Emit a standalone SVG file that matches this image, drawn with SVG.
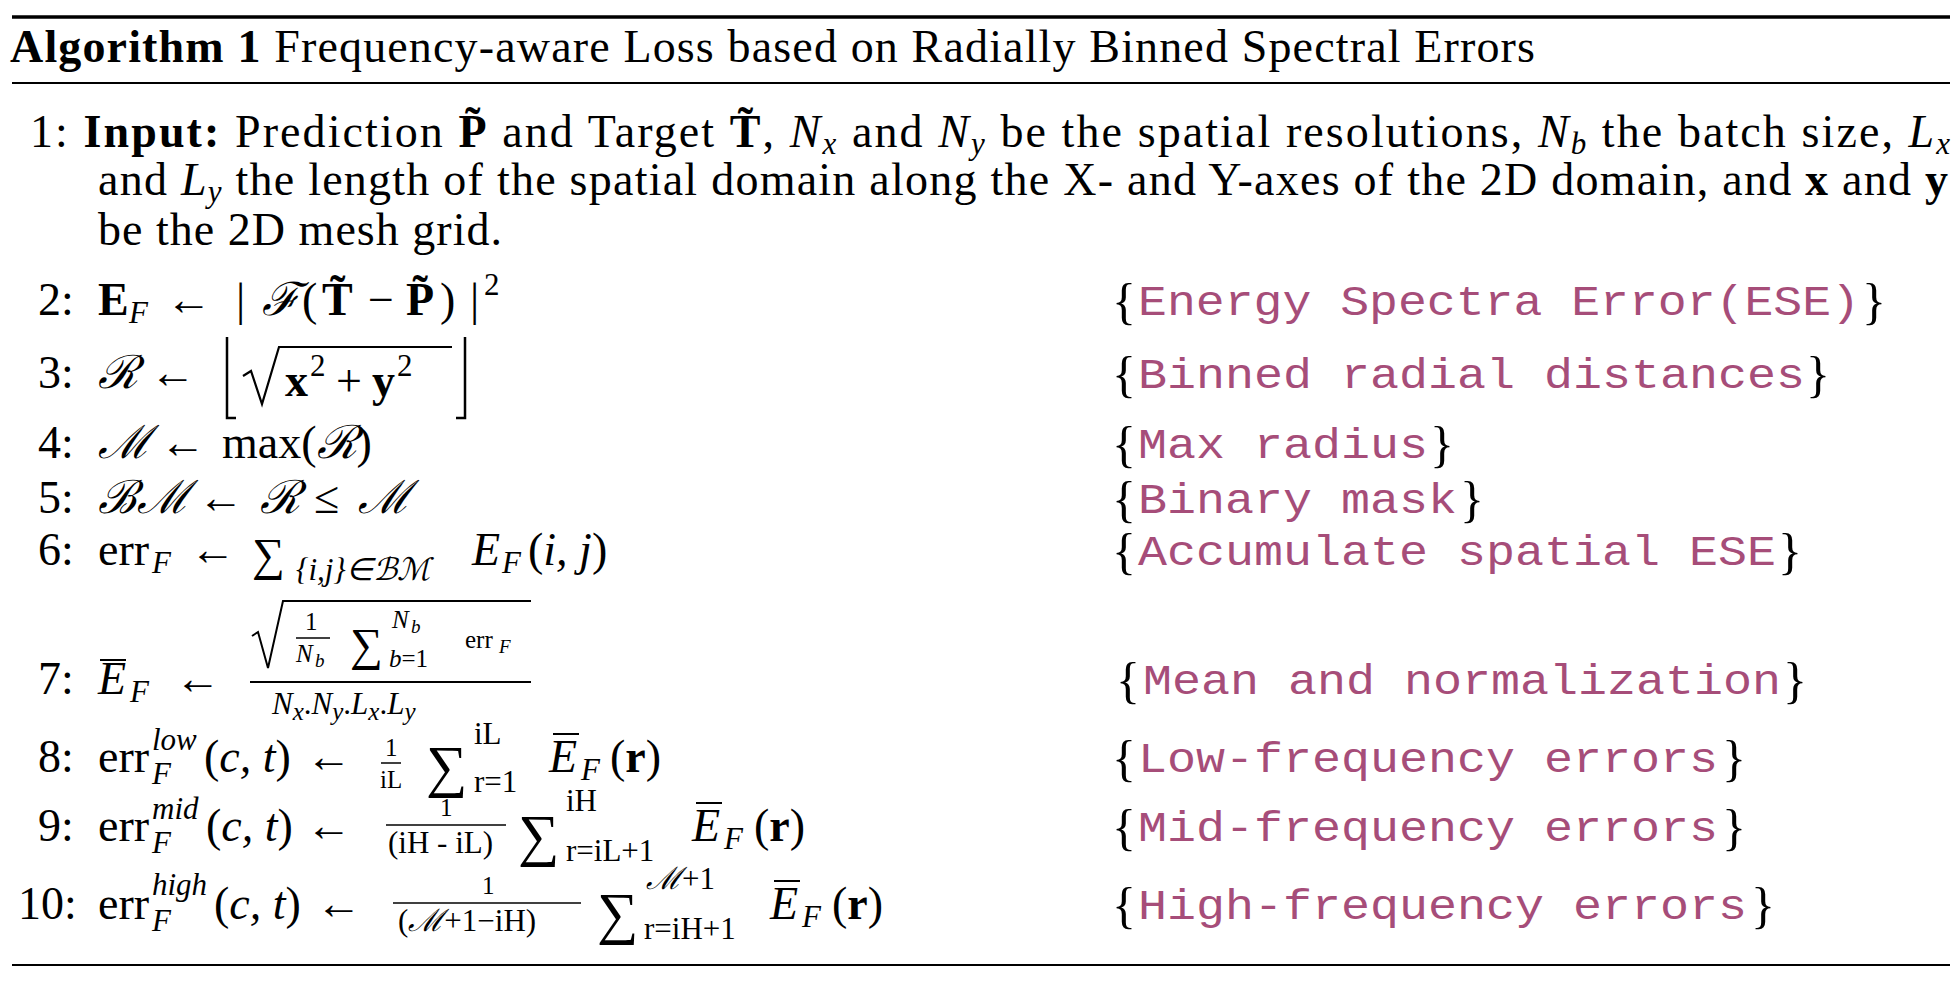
<svg xmlns="http://www.w3.org/2000/svg" width="1960" height="984" viewBox="0 0 1960 984">
<style>
.t{font-family:"Liberation Serif","Times New Roman",serif;font-size:46px;fill:#000}
.s{font-size:31px}
.ss{font-size:25px}
.x{font-size:19px}
.i{font-style:italic}
.n{font-style:normal}
.b{font-weight:bold}
.g{font-size:58px}
.c{font-family:"Liberation Mono","Courier New",monospace;font-size:42px;fill:#A64D79}
.br{font-family:"Liberation Serif",serif;font-size:50px;fill:#000}
.ln{stroke:#000;fill:none}
</style>
<rect width="1960" height="984" fill="#fff"/>
<g id="rules">
<line class="ln" x1="12" y1="17" x2="1950" y2="17" stroke-width="3.5"/>
<line class="ln" x1="12" y1="83" x2="1950" y2="83" stroke-width="2"/>
<line class="ln" x1="12" y1="965" x2="1950" y2="965" stroke-width="2"/>
</g>
<g id="title"><text class="t" x="10" y="62" textLength="1525" lengthAdjust="spacing"><tspan class="b">Algorithm 1</tspan> Frequency-aware Loss based on Radially Binned Spectral Errors</text></g>
<g id="line1">
<text class="t" x="30" y="147" textLength="1920" lengthAdjust="spacing">1:  <tspan class="b">Input:</tspan> Prediction <tspan class="b">P̃</tspan> and Target <tspan class="b">T̃</tspan>, <tspan class="i">N</tspan><tspan class="i s" dy="7">x</tspan><tspan dy="-7"> and </tspan><tspan class="i">N</tspan><tspan class="i s" dy="7">y</tspan><tspan dy="-7"> be the spatial resolutions, </tspan><tspan class="i">N</tspan><tspan class="i s" dy="7">b</tspan><tspan dy="-7"> the batch size, </tspan><tspan class="i">L</tspan><tspan class="i s" dy="7">x</tspan></text>
<text class="t" x="98" y="195" textLength="1850" lengthAdjust="spacing">and <tspan class="i">L</tspan><tspan class="i s" dy="7">y</tspan><tspan dy="-7"> the length of the spatial domain along the X- and Y-axes of the 2D domain, and </tspan><tspan class="b">x</tspan> and <tspan class="b">y</tspan></text>
<text class="t" x="98" y="245" textLength="404" lengthAdjust="spacing">be the 2D mesh grid.</text>
</g>
<g id="line2">
<text class="t" x="38" y="315">2:</text>
<text class="t b" x="98" y="315">E</text><text class="t i s" x="129" y="323">F</text>
<text class="t" x="166" y="315">←</text>
<text class="t" x="236" y="315">|</text>
<text class="t i" x="262" y="315">ℱ</text>
<text class="t" x="302" y="315">(</text>
<text class="t b" x="322" y="315">T̃</text>
<text class="t" x="368" y="315">−</text>
<text class="t b" x="406" y="315">P̃</text>
<text class="t" x="440" y="315">)</text>
<text class="t" x="470" y="315">|</text>
<text class="t s" x="484" y="295">2</text>
<text class="br" x="1112" y="318">{</text><text class="c" x="1138" y="315" textLength="722" lengthAdjust="spacingAndGlyphs">Energy Spectra Error(ESE)</text><text class="br" x="1862" y="318">}</text>
</g>
<g id="line3">
<text class="t" x="38" y="388">3:</text>
<text class="t i" x="98" y="388">ℛ</text><text class="t" x="150" y="388">←</text>
<path class="ln" stroke-width="2.5" d="M227 337 V418 H236 M465 337 V418 H456"/>
<path class="ln" stroke-width="2.2" d="M243 376 L251 371 L262 404 L279 347 H452"/>
<text class="t b" x="285" y="396">x</text><text class="t s" x="310" y="376">2</text>
<text class="t" x="336" y="396">+</text>
<text class="t b" x="372" y="396">y</text><text class="t s" x="397" y="376">2</text>
<text class="br" x="1112" y="391">{</text><text class="c" x="1138" y="388" textLength="667" lengthAdjust="spacingAndGlyphs">Binned radial distances</text><text class="br" x="1806" y="391">}</text>
</g>
<g id="line4">
<text class="t" x="38" y="458">4:</text>
<text class="t i" x="98" y="458">ℳ</text><text class="t" x="160" y="458">←</text>
<text class="t" x="222" y="458">max(<tspan class="i">ℛ</tspan>)</text>
<text class="br" x="1112" y="461">{</text><text class="c" x="1138" y="458" textLength="290" lengthAdjust="spacingAndGlyphs">Max radius</text><text class="br" x="1430" y="461">}</text>
</g>
<g id="line5">
<text class="t" x="38" y="513">5:</text>
<text class="t i" x="98" y="513">ℬℳ</text><text class="t" x="198" y="513">←</text>
<text class="t i" x="260" y="513">ℛ</text><text class="t" x="314" y="513">≤</text><text class="t i" x="358" y="513">ℳ</text>
<text class="br" x="1112" y="516">{</text><text class="c" x="1138" y="513" textLength="319" lengthAdjust="spacingAndGlyphs">Binary mask</text><text class="br" x="1460" y="516">}</text>
</g>
<g id="line6">
<text class="t" x="38" y="565">6:</text>
<text class="t" x="98" y="565">err</text><text class="t i s" x="152" y="573">F</text>
<text class="t" x="190" y="565">←</text>
<text class="t" x="252" y="570" font-size="56">∑</text>
<text class="t i s" x="296" y="580">{i,j}∈ℬℳ</text>
<text class="t i" x="472" y="565">E</text><text class="t i s" x="502" y="573">F</text>
<text class="t" x="528" y="565">(<tspan class="i">i, j</tspan>)</text>
<text class="br" x="1112" y="568">{</text><text class="c" x="1138" y="565" textLength="638" lengthAdjust="spacingAndGlyphs">Accumulate spatial ESE</text><text class="br" x="1778" y="568">}</text>
</g>
<g id="line7">
<text class="t" x="38" y="694">7:</text>
<text class="t i" x="98" y="694">E</text><text class="t i s" x="130" y="702">F</text>
<line class="ln" x1="100" y1="660" x2="126" y2="660" stroke-width="2"/>
<text class="t" x="175" y="694">←</text>
<line class="ln" x1="250" y1="682" x2="531" y2="682" stroke-width="2"/>
<path class="ln" stroke-width="2" d="M252 636 L258 632 L268 668 L283 601 H531"/>
<text class="t ss" x="305" y="630">1</text>
<line class="ln" x1="296" y1="638" x2="330" y2="638" stroke-width="1.5"/>
<text class="t ss i" x="296" y="662">N</text><text class="t x i" x="315" y="667">b</text>
<text class="t" x="350" y="660" font-size="44">∑</text>
<text class="t ss i" x="392" y="628">N</text><text class="t x i" x="411" y="633">b</text>
<text class="t ss" x="389" y="667"><tspan class="i">b</tspan>=1</text>
<text class="t ss" x="465" y="648">err</text><text class="t x i" x="499" y="653">F</text>
<text class="t s i" x="272" y="714">N<tspan class="ss" dy="6">x</tspan><tspan dy="-6" class="n">.</tspan>N<tspan class="ss" dy="6">y</tspan><tspan dy="-6" class="n">.</tspan>L<tspan class="ss" dy="6">x</tspan><tspan dy="-6" class="n">.</tspan>L<tspan class="ss" dy="6">y</tspan></text>
<text class="br" x="1116" y="697">{</text><text class="c" x="1143" y="694" textLength="638" lengthAdjust="spacingAndGlyphs">Mean and normalization</text><text class="br" x="1783" y="697">}</text>
</g>
<g id="line8">
<text class="t" x="38" y="772">8:</text>
<text class="t" x="98" y="772">err</text><text class="t i s" x="152" y="784">F</text><text class="t i s" x="152" y="750">low</text>
<text class="t" x="204" y="772">(<tspan class="i">c, t</tspan>)</text>
<text class="t" x="306" y="772">←</text>
<text class="t ss" x="385" y="756">1</text>
<line class="ln" x1="381" y1="763" x2="401" y2="763" stroke-width="1.5"/>
<text class="t ss" x="380" y="788">iL</text>
<text class="t g" x="426" y="786">∑</text>
<text class="t s" x="474" y="744">iL</text><text class="t s" x="474" y="792">r=1</text>
<text class="t i" x="549" y="772">E</text><text class="t i s" x="581" y="780">F</text>
<line class="ln" x1="553" y1="734" x2="579" y2="734" stroke-width="2"/>
<text class="t" x="610" y="772">(<tspan class="b">r</tspan>)</text>
<text class="br" x="1112" y="775">{</text><text class="c" x="1138" y="772" textLength="580" lengthAdjust="spacingAndGlyphs">Low-frequency errors</text><text class="br" x="1722" y="775">}</text>
</g>
<g id="line9">
<text class="t" x="38" y="841">9:</text>
<text class="t" x="98" y="841">err</text><text class="t i s" x="152" y="853">F</text><text class="t i s" x="152" y="819">mid</text>
<text class="t" x="206" y="841">(<tspan class="i">c, t</tspan>)</text>
<text class="t" x="306" y="841">←</text>
<text class="t ss" x="440" y="816">1</text>
<line class="ln" x1="386" y1="825" x2="506" y2="825" stroke-width="1.5"/>
<text class="t s" x="388" y="853">(iH - iL)</text>
<text class="t g" x="518" y="855">∑</text>
<text class="t s" x="566" y="811">iH</text><text class="t s" x="566" y="861">r=iL+1</text>
<text class="t i" x="692" y="841">E</text><text class="t i s" x="724" y="849">F</text>
<line class="ln" x1="696" y1="803" x2="722" y2="803" stroke-width="2"/>
<text class="t" x="754" y="841">(<tspan class="b">r</tspan>)</text>
<text class="br" x="1112" y="844">{</text><text class="c" x="1138" y="841" textLength="580" lengthAdjust="spacingAndGlyphs">Mid-frequency errors</text><text class="br" x="1722" y="844">}</text>
</g>
<g id="line10">
<text class="t" x="18" y="919">10:</text>
<text class="t" x="98" y="919">err</text><text class="t i s" x="152" y="931">F</text><text class="t i s" x="152" y="895">high</text>
<text class="t" x="214" y="919">(<tspan class="i">c, t</tspan>)</text>
<text class="t" x="316" y="919">←</text>
<text class="t ss" x="482" y="894">1</text>
<line class="ln" x1="393" y1="903" x2="581" y2="903" stroke-width="1.5"/>
<text class="t s" x="398" y="931">(<tspan class="i">ℳ</tspan>+1−iH)</text>
<text class="t g" x="597" y="933">∑</text>
<text class="t s" x="646" y="889"><tspan class="i">ℳ</tspan>+1</text><text class="t s" x="644" y="939">r=iH+1</text>
<text class="t i" x="770" y="919">E</text><text class="t i s" x="802" y="927">F</text>
<line class="ln" x1="774" y1="881" x2="800" y2="881" stroke-width="2"/>
<text class="t" x="832" y="919">(<tspan class="b">r</tspan>)</text>
<text class="br" x="1112" y="922">{</text><text class="c" x="1138" y="919" textLength="609" lengthAdjust="spacingAndGlyphs">High-frequency errors</text><text class="br" x="1751" y="922">}</text>
</g>
</svg>
